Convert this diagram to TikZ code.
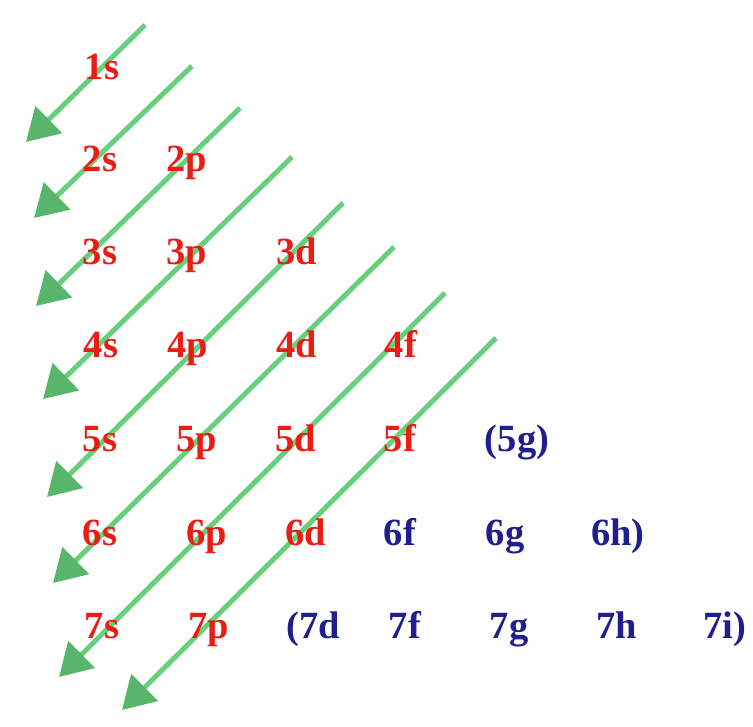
\documentclass[tikz,border=0pt]{standalone}
\usepackage{fontspec}
\setmainfont{Liberation Serif}
\usetikzlibrary{arrows.meta}
\definecolor{lineGreen}{RGB}{104,208,124}
\definecolor{headGreen}{RGB}{88,182,108}
\definecolor{orbRed}{RGB}{235,28,20}
\definecolor{orbBlue}{RGB}{30,30,140}

\begin{document}
\begin{tikzpicture}[x=1pt, y=-1pt,
    orb/.style={font=\bfseries\fontsize{38.5}{42}\selectfont, anchor=base, inner sep=0pt},
    diag/.style={lineGreen, line width=5pt, -{Triangle[length=32pt, width=37pt, color=headGreen]}}]
    \useasboundingbox (0,0) rectangle (753,727);
    \foreach \i/\sx/\sy/\ex/\ey in {1/145/25/26/142, 2/192/66/34/218, 3/240/108/36/306, 4/292/157/43/399,
        5/343/203/47/497, 6/394/247/53/583, 7/445/293/59/677, 8/496/338/122/710} {
        \coordinate (a\i) at (\sx,\sy);
        \coordinate (b\i) at (\ex,\ey);
        \draw[diag] (a\i) -- (b\i);
    }
    \foreach \n/\x/\y in {1s/102/80, 2s/100/172, 2p/187/172, 3s/100/265, 3p/187/265, 3d/297/265,
        4s/101/358, 4p/188/358, 4d/297/358, 4f/401/358,
        5s/100/451, 5p/197/451, 5d/296/451, 5f/400/451,
        6s/100/545, 6p/207/545, 6d/306/545, 7s/102/638, 7p/209/638} {
        \node[orb, orbRed] (o\n) at (\x,\y) {\n};
    }
    \foreach \n/\t/\x/\y in {5g/{(5g)}/517/451, 6f/{6f}/400/545, 6g/{6g}/505/545, 6h/{6h)}/618/545,
        7d/{(7d}/313/638, 7f/{7f}/405/638, 7g/{7g}/509/638, 7h/{7h}/617/638, 7i/{7i)}/725/638} {
        \node[orb, orbBlue] (o\n) at (\x,\y) {\t};
    }
\end{tikzpicture}
\end{document}
